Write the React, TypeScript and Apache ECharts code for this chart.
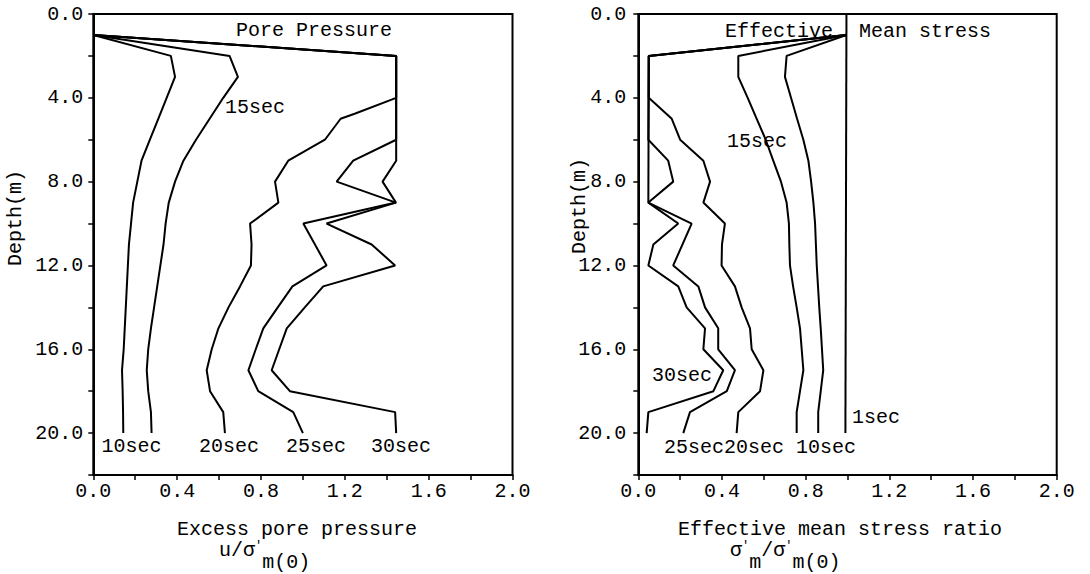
import React, { useEffect, useRef } from 'react';
import * as echarts from 'echarts';

// Tick labels
const X_LABELS = ['0.0', '0.4', '0.8', '1.2', '1.6', '2.0'];
const Y_LABELS = ['0.0', '4.0', '8.0', '12.0', '16.0', '20.0'];

// ---- Left panel: excess pore pressure u/σ'm(0) vs depth (m)
const PP10_D = [1, 2, 3, 4, 5, 6, 7, 8, 9, 10, 11, 12, 13, 14, 15, 16, 17, 18, 19, 20];
const PP10_X = [0, 0.37, 0.39, 0.35, 0.31, 0.27, 0.23, 0.21, 0.19, 0.18, 0.17, 0.165, 0.16, 0.155, 0.15, 0.145, 0.137, 0.14, 0.142, 0.143];

const PP15_D = [1, 2, 3, 4, 5, 6, 7, 8, 9, 10, 11, 12, 13, 14, 15, 16, 17, 18, 19, 20];
const PP15_X = [0, 0.65, 0.69, 0.62, 0.555, 0.49, 0.43, 0.39, 0.36, 0.345, 0.335, 0.32, 0.305, 0.29, 0.275, 0.262, 0.255, 0.262, 0.275, 0.278];

const PP20_D = [1, 2, 4, 4.75, 5, 6, 7, 8, 9, 10, 11, 12, 13, 14, 15, 16, 17, 18, 19, 20];
const PP20_X = [0, 1.445, 1.445, 1.25, 1.18, 1.105, 0.93, 0.867, 0.883, 0.748, 0.755, 0.752, 0.7, 0.645, 0.597, 0.565, 0.541, 0.557, 0.62, 0.628];

const PP25_D = [1, 2, 6, 7, 8, 9, 10, 12, 13, 14, 15, 16, 17, 18, 19, 20];
const PP25_X = [0, 1.445, 1.445, 1.24, 1.161, 1.444, 1.002, 1.113, 0.95, 0.88, 0.811, 0.775, 0.74, 0.787, 0.954, 1.0];

const PP30_D = [1, 2, 7, 8, 9, 10, 11, 12, 13, 14, 15, 16, 17, 18, 19, 20];
const PP30_X = [0, 1.445, 1.445, 1.38, 1.444, 1.113, 1.328, 1.44, 1.097, 1.009, 0.923, 0.887, 0.851, 0.938, 1.44, 1.445];

// ---- Right panel: effective mean stress ratio σ'm/σ'm(0) vs depth (m)
const ES1_D = [0, 20];
const ES1_X = [0.995, 0.99];

const ES10_D = [1, 2, 3, 4, 5, 6, 7, 8, 9, 10, 11, 12, 13, 14, 15, 16, 17, 18, 19, 20];
const ES10_X = [0.995, 0.709, 0.701, 0.73, 0.759, 0.789, 0.813, 0.826, 0.837, 0.845, 0.849, 0.853, 0.859, 0.865, 0.872, 0.878, 0.884, 0.872, 0.86, 0.86];

const ES15_D = [1, 2, 3, 4, 5, 6, 7, 8, 9, 10, 11, 12, 13, 14, 15, 16, 17, 18, 19, 20];
const ES15_X = [0.995, 0.478, 0.478, 0.523, 0.566, 0.609, 0.645, 0.682, 0.709, 0.72, 0.722, 0.725, 0.74, 0.757, 0.773, 0.781, 0.789, 0.773, 0.757, 0.757];

const ES20_D = [1, 2, 4, 5, 6, 7, 8, 9, 10, 11, 12, 13, 14, 15, 16, 17, 18, 19, 20];
const ES20_X = [0.995, 0.05, 0.05, 0.16, 0.2, 0.311, 0.343, 0.311, 0.414, 0.4, 0.398, 0.462, 0.494, 0.534, 0.542, 0.598, 0.582, 0.478, 0.47];

const ES25_D = [1, 2, 6, 7, 8, 9, 10, 12, 13, 14, 15, 16, 17, 18, 19, 20];
const ES25_X = [0.995, 0.05, 0.048, 0.143, 0.167, 0.048, 0.255, 0.167, 0.287, 0.319, 0.382, 0.382, 0.462, 0.423, 0.247, 0.215];

const ES30_D = [1, 2, 9, 10, 11, 12, 13, 14, 15, 16, 17, 18, 19, 20];
const ES30_X = [0.995, 0.05, 0.048, 0.191, 0.072, 0.048, 0.191, 0.231, 0.319, 0.311, 0.406, 0.359, 0.048, 0.04];

const FONT = '"Liberation Mono", "Courier New", monospace';

function pairs(xs: number[], ds: number[]) {
  return xs.map((x, i) => [x, ds[i]]);
}

function lineSeries(name: string, xs: number[], ds: number[], idx: number) {
  return {
    name,
    type: 'line',
    xAxisIndex: idx,
    yAxisIndex: idx,
    data: pairs(xs, ds),
    showSymbol: false,
    symbol: 'none',
    lineStyle: { color: '#000', width: 2 },
    silent: true,
    clip: false,
  };
}

function txt(text: string, x: number, y: number, align = 'center', extra: any = {}, styleExtra: any = {}) {
  return {
    type: 'text',
    x,
    y,
    silent: true,
    ...extra,
    style: {
      text,
      font: `20px ${FONT}`,
      fill: '#000',
      textAlign: align,
      align,
      textVerticalAlign: 'middle',
      verticalAlign: 'middle',
      ...styleExtra,
    },
  };
}

// rich text with base (b), prime superscript (p) and subscript (s) tokens
const RICH = {
  b: { fontFamily: FONT, fontSize: 20, lineHeight: 20, color: '#000', verticalAlign: 'top' },
  p: { fontFamily: FONT, fontSize: 12, lineHeight: 12, color: '#000', verticalAlign: 'top' },
  s: { fontFamily: FONT, fontSize: 20, lineHeight: 32, height: 20, color: '#000', verticalAlign: 'bottom' },
};

function richTxt(text: string, x: number, top: number) {
  return txt(text, x, top, 'left', {}, {
    rich: RICH,
    textVerticalAlign: 'top',
    verticalAlign: 'top',
  });
}

function xAxisDef(gridIndex: number) {
  return {
    gridIndex,
    type: 'value',
    min: 0,
    max: 2,
    interval: 0.2,
    axisLine: { show: true, onZero: false, lineStyle: { color: '#000', width: 2 } },
    axisTick: { show: true, length: 5, lineStyle: { color: '#000', width: 1.5 } },
    splitLine: { show: false },
    axisLabel: {
      fontFamily: FONT,
      fontSize: 20,
      color: '#000',
      margin: 6,
      formatter: (v: number) => {
        const s = v.toFixed(1);
        return X_LABELS.includes(s) ? s : '';
      },
    },
  };
}

function yAxisDef(gridIndex: number, margin: number) {
  return {
    gridIndex,
    type: 'value',
    inverse: true,
    min: 0,
    max: 22,
    interval: 2,
    axisLine: { show: true, onZero: false, lineStyle: { color: '#000', width: 2 } },
    axisTick: { show: true, length: 5, lineStyle: { color: '#000', width: 1.5 } },
    splitLine: { show: false },
    axisLabel: {
      fontFamily: FONT,
      fontSize: 20,
      color: '#000',
      margin,
      formatter: (v: number) => {
        const s = v.toFixed(1);
        return Y_LABELS.includes(s) ? s : '';
      },
    },
  };
}

export default function App() {
  const ref = useRef<HTMLDivElement>(null);

  useEffect(() => {
    if (!ref.current) return;
    const chart = echarts.init(ref.current, undefined, { renderer: 'svg' });
    const gridStyle = { show: true, borderColor: '#000', borderWidth: 2, backgroundColor: 'transparent' };
    chart.setOption({
      animation: false,
      backgroundColor: '#fff',
      grid: [
        { left: 93.3, top: 14, width: 419.2, height: 461, ...gridStyle },
        { left: 638.3, top: 14, width: 418.4, height: 461, ...gridStyle },
      ],
      xAxis: [xAxisDef(0), xAxisDef(1)],
      yAxis: [yAxisDef(0, 10), yAxisDef(1, 12)],
      series: [
        lineSeries('10sec', PP10_X, PP10_D, 0),
        lineSeries('15sec', PP15_X, PP15_D, 0),
        lineSeries('20sec', PP20_X, PP20_D, 0),
        lineSeries('25sec', PP25_X, PP25_D, 0),
        lineSeries('30sec', PP30_X, PP30_D, 0),
        lineSeries('1sec', ES1_X, ES1_D, 1),
        lineSeries('10sec', ES10_X, ES10_D, 1),
        lineSeries('15sec', ES15_X, ES15_D, 1),
        lineSeries('20sec', ES20_X, ES20_D, 1),
        lineSeries('25sec', ES25_X, ES25_D, 1),
        lineSeries('30sec', ES30_X, ES30_D, 1),
      ],
      graphic: {
        elements: [
          // Left panel texts
          txt('Pore Pressure', 314, 30),
          txt('15sec', 255, 107),
          txt('10sec', 131.5, 446),
          txt('20sec', 229, 446),
          txt('25sec', 316, 446),
          txt('30sec', 401, 446),
          txt('Depth(m)', 15, 218, 'center', { rotation: Math.PI / 2 }),
          txt('Excess pore pressure', 297, 529),
          richTxt("{b|u/σ}{p|'}{s|m(0)}", 219, 540),
          // Right panel texts
          txt('Effective', 779, 31),
          txt('Mean stress', 925, 31),
          txt('15sec', 757, 141),
          txt('30sec', 682, 375),
          txt('1sec', 876, 417),
          txt('25sec20sec 10sec', 664, 447, 'left'),
          txt('Depth(m)', 579, 206, 'center', { rotation: Math.PI / 2 }),
          txt('Effective mean stress ratio', 840, 529),
          richTxt("{b|σ}{p|'}{s|m}{b|/σ}{p|'}{s|m(0)}", 730, 540),
        ],
      },
    });
    return () => chart.dispose();
  }, []);

  return (
    <div
      ref={ref}
      style={{ position: 'fixed', left: 0, top: 0, width: 1090, height: 574, background: '#fff' }}
    />
  );
}
